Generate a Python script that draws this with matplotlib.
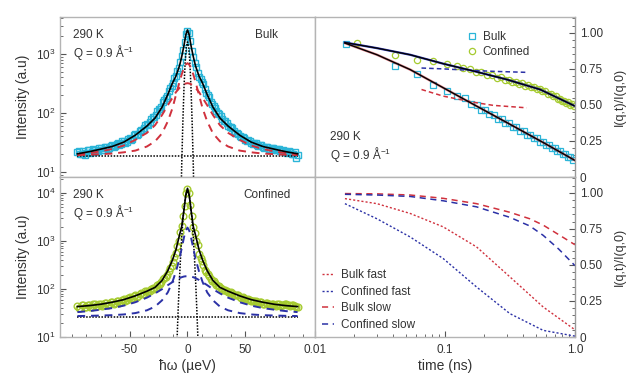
import numpy as np
import matplotlib
matplotlib.use("Agg")
import matplotlib.pyplot as plt
from matplotlib.ticker import FixedLocator, FixedFormatter, LogLocator, NullFormatter, MultipleLocator

plt.rcParams["font.family"] = ["Liberation Sans", "DejaVu Sans"]
plt.rcParams["mathtext.default"] = "regular"
plt.rcParams["font.size"] = 8

# ---------------- energy spectra (left) ----------------
E_DATA = np.arange(-95, 95.1, 2.5)      # energy channels (ueV)
E_DATA_B = np.arange(-93.75, 94, 2.5)   # interleaved channels

bulk_spec = [21.5, 19.8, 22.4, 20.6, 23.1, 21.7, 24.0, 22.8, 25.2, 23.9, 26.4, 25.1, 28.3, 27.0,
             30.4, 29.6, 33.5, 32.1, 37.2, 36.8, 43.6, 44.0, 51.8, 54.9, 64.5, 69.8, 84.0, 91.5,
             115, 128, 164, 196, 266, 325, 430, 570, 920, 1580, 2500, 1640, 880, 595, 410, 338,
             254, 205, 156, 133, 109, 95.5, 80.0, 72.8, 60.6, 57.5, 48.9, 46.2, 41.0, 39.1, 34.6,
             34.4, 31.2, 31.3, 28.4, 28.7, 26.4, 26.7, 24.7, 25.5, 23.7, 24.3, 22.6, 23.2, 21.4,
             22.3, 20.5, 21.4, 19.6]
bulk_spec_b = [22.6, 20.0, 19.4, 23.5, 21.0, 24.6, 22.1, 25.4, 23.2, 26.6, 24.5, 28.0, 26.3, 30.2,
               28.4, 33.0, 31.0, 36.6, 35.2, 42.3, 41.5, 50.0, 51.2, 61.8, 63.5, 79.0, 85.5, 106,
               117, 152, 176, 236, 290, 385, 505, 720, 1180, 2200, 2300, 1120, 690, 475, 380, 308,
               218, 185, 140, 123, 98.5, 90.5, 73.5, 68.0, 57.0, 54.6, 46.0, 44.8, 38.8, 38.2,
               33.4, 33.7, 30.3, 30.6, 27.6, 28.3, 25.7, 26.4, 24.3, 25.3, 23.2, 24.1, 22.2, 23.0,
               21.0, 22.0, 20.1, 17.2]

conf_spec = [44.8, 40.6, 45.9, 42.3, 47.0, 43.1, 48.2, 44.5, 49.6, 46.3, 52.0, 48.4, 54.1, 50.8,
             57.3, 54.0, 61.5, 58.2, 67.0, 63.8, 74.5, 71.0, 82.6, 80.4, 92.0, 91.2, 104, 107,
             128, 137, 170, 195, 268, 370, 565, 980, 2050, 5400, 12000, 5600, 1950, 1020, 540, 390,
             252, 206, 160, 144, 121, 113, 97.0, 96.5, 85.5, 85.0, 76.0, 75.8, 68.2, 67.5, 61.4,
             61.8, 56.6, 57.2, 52.5, 54.0, 49.6, 51.5, 47.6, 49.8, 45.7, 47.9, 44.2, 46.5, 48.5,
             45.8, 47.2, 44.0, 41.8]
conf_spec_b = [40.2, 46.4, 41.5, 47.1, 42.6, 48.0, 43.5, 49.3, 45.0, 51.2, 47.0, 53.5, 49.4, 56.1,
               52.3, 60.2, 56.0, 65.0, 61.5, 71.8, 68.5, 80.0, 77.0, 89.5, 87.0, 101, 102, 122,
               129, 158, 178, 240, 300, 470, 790, 1520, 3250, 9800, 10200, 3350, 1480, 810, 450,
               318, 224, 186, 148, 135, 114, 107, 94.5, 93.0, 83.0, 82.5, 74.0, 73.5, 66.0, 66.0,
               59.8, 60.3, 55.5, 56.5, 51.6, 53.0, 49.0, 51.0, 47.0, 49.4, 45.2, 48.6, 46.8, 49.5,
               47.0, 45.2, 46.0, 43.0]

E_FIT = [-95, -85, -75, -65, -55, -45, -35, -28, -22, -17, -13, -10, -7, -5, -3, -1.5, 0,
         1.5, 3, 5, 7, 10, 13, 17, 22, 28, 35, 45, 55, 65, 75, 85, 95]

bulk_total = [20.3, 22, 24.3, 27, 32, 42, 60, 82, 125, 205, 320, 420, 620, 900, 1400, 2100, 2560,
              2100, 1400, 900, 620, 420, 320, 205, 125, 82, 60, 42, 32, 27, 24.3, 22, 20.3]
bulk_narrow = [19.3, 19.6, 20, 20.5, 21.5, 23, 27, 33, 45, 72, 120, 200, 330, 450, 580, 660, 700,
               660, 580, 450, 330, 200, 120, 72, 45, 33, 27, 23, 21.5, 20.5, 20, 19.6, 19.3]
bulk_broad = [19.8, 20.8, 22.3, 24.5, 28, 35, 46, 62, 92, 135, 180, 225, 265, 290, 308, 316, 320,
              316, 308, 290, 265, 225, 180, 135, 92, 62, 46, 35, 28, 24.5, 22.3, 20.8, 19.8]
bulk_bg = 18.8

conf_total = [43, 45, 48, 53, 60, 72, 90, 108, 150, 240, 400, 650, 1300, 2000, 4500, 9000, 12500,
              9000, 4500, 2000, 1300, 650, 400, 240, 150, 108, 90, 72, 60, 53, 48, 45, 43]
conf_narrow = [27.3, 27.6, 28, 28.5, 29.5, 31.5, 36, 43, 58, 85, 140, 230, 420, 700, 1200, 1650, 1900,
               1650, 1200, 700, 420, 230, 140, 85, 58, 43, 36, 31.5, 29.5, 28.5, 28, 27.6, 27.3]
conf_broad = [33, 34.6, 37, 40, 45, 53, 66, 81, 99, 120, 139, 154, 168, 176, 182, 184, 185,
              184, 182, 176, 168, 154, 139, 120, 99, 81, 66, 53, 45, 40, 37, 34.6, 33]
conf_bg = 26

E_RES_B = [-7, -6, -5, -4, -3, -2, -1, 0, 1, 2, 3, 4, 5, 6, 7]
bulk_res = [0.1, 1.4, 12.9, 70, 277, 734, 1310, 1600, 1310, 734, 277, 70, 12.9, 1.4, 0.1]
E_RES_C = [-11, -10, -9, -8, -7, -6, -5, -4, -3, -2, -1, 0, 1, 2, 3, 4, 5, 6, 7, 8, 9, 10, 11]
conf_res = [0.3, 1.8, 9.1, 40, 148, 459, 1200, 2620, 4780, 7400, 9620, 10500, 9620, 7400, 4780,
            2620, 1200, 459, 148, 40, 9.1, 1.8, 0.3]

# ---------------- intermediate scattering functions (right) ----------------
t_bulk = [0.0173, 0.0414, 0.0605, 0.0813, 0.103, 0.123, 0.142, 0.158, 0.175, 0.19, 0.205, 0.22,
          0.237, 0.255, 0.273, 0.292, 0.312, 0.333, 0.355, 0.378, 0.402, 0.427, 0.453, 0.48,
          0.508, 0.537, 0.567, 0.598, 0.63, 0.663, 0.697, 0.732, 0.768, 0.805, 0.843, 0.882,
          0.922, 0.963]
iqt_bulk = [0.922, 0.768, 0.717, 0.641, 0.595, 0.561, 0.545, 0.508, 0.499, 0.468, 0.463, 0.436,
            0.432, 0.404, 0.401, 0.375, 0.372, 0.348, 0.345, 0.320, 0.318, 0.293, 0.292, 0.270,
            0.268, 0.246, 0.244, 0.222, 0.221, 0.200, 0.199, 0.179, 0.178, 0.159, 0.157, 0.139,
            0.138, 0.121]
t_conf = [0.021, 0.0414, 0.0605, 0.0813, 0.103, 0.123, 0.138, 0.155, 0.172, 0.19, 0.21, 0.23,
          0.25, 0.27, 0.29, 0.31, 0.33, 0.35, 0.37, 0.39, 0.41, 0.435, 0.46, 0.485, 0.51, 0.535,
          0.56, 0.59, 0.62, 0.65, 0.68, 0.71, 0.74, 0.77, 0.8, 0.83, 0.86, 0.89, 0.92, 0.95, 0.98]
iqt_conf = [0.929, 0.848, 0.814, 0.802, 0.784, 0.768, 0.756, 0.748, 0.729, 0.727, 0.708, 0.707,
            0.689, 0.691, 0.674, 0.676, 0.661, 0.662, 0.646, 0.649, 0.634, 0.636, 0.621, 0.624,
            0.609, 0.612, 0.596, 0.594, 0.576, 0.575, 0.559, 0.559, 0.543, 0.544, 0.530, 0.530,
            0.515, 0.517, 0.502, 0.504, 0.490]

t_fit = [0.017, 0.03, 0.054, 0.097, 0.175, 0.316, 0.57, 1.0]
fit_bulk = [0.929, 0.848, 0.745, 0.619, 0.492, 0.366, 0.239, 0.115]
t_fitc = [0.017, 0.03, 0.054, 0.097, 0.175, 0.3, 0.54, 1.0]
fit_conf = [0.933, 0.894, 0.848, 0.786, 0.73, 0.676, 0.607, 0.492]

t_plateau = [0.066, 0.097, 0.13, 0.175, 0.235, 0.425]
plateau_bulk = [0.607, 0.561, 0.538, 0.515, 0.497, 0.48]
plateau_conf = [0.756, 0.75, 0.744, 0.738, 0.733, 0.726]

t_comp = [0.017, 0.03, 0.054, 0.097, 0.175, 0.316, 0.45, 0.57, 0.75, 1.0]
bulk_slow = [0.995, 0.993, 0.985, 0.962, 0.925, 0.865, 0.82, 0.776, 0.71, 0.64]
conf_slow = [0.99, 0.985, 0.975, 0.945, 0.903, 0.83, 0.77, 0.705, 0.61, 0.495]
t_fast = [0.017, 0.03, 0.054, 0.097, 0.175, 0.316, 0.57, 1.0]
bulk_fast = [0.96, 0.925, 0.857, 0.764, 0.625, 0.417, 0.208, 0.05]
conf_fast = [0.925, 0.82, 0.694, 0.544, 0.347, 0.162, 0.046, 0.006]

CYAN = "#2bb5d8"
GREEN = "#a6cb30"
RED = "#d0313d"
NAVY = "#2b31a6"
FRAME = "#b4b4b4"
TXT = "#333333"

fig = plt.figure(figsize=(6.33, 3.77), dpi=100)
ax_tl = fig.add_axes([0.0948, 0.5305, 0.4028, 0.4244])
ax_bl = fig.add_axes([0.0948, 0.1061, 0.4028, 0.4244])
ax_tr = fig.add_axes([0.4976, 0.5305, 0.4107, 0.4244])
ax_br = fig.add_axes([0.4976, 0.1061, 0.4107, 0.4244])

for ax in (ax_tl, ax_bl, ax_tr, ax_br):
    for s in ax.spines.values():
        s.set_color(FRAME)
        s.set_linewidth(1.0)
    ax.tick_params(which="both", direction="in", colors="#555555", labelcolor=TXT, labelsize=8.5)
    ax.tick_params(which="major", length=4)
    ax.tick_params(which="minor", length=2)

# left panels
def spectrum(ax, data, data_b, color, marker, total, narrow, broad, bg, e_res, res, comp_color, ylim):
    for e, d in ((E_DATA, data), (E_DATA_B, data_b)):
        ax.plot(e, d, linestyle="none", marker=marker, ms=4.8, mfc="none", mec=color, mew=1.0)
    ax.plot(E_FIT, [bg] * len(E_FIT), color="k", ls=(0, (1, 1)), lw=1.1)
    ax.plot(e_res, res, color="k", ls=(0, (1, 1)), lw=1.1)
    ax.plot(E_FIT, narrow, color=comp_color, ls=(0, (4, 3)), lw=1.4)
    ax.plot(E_FIT, broad, color=comp_color, ls=(0, (4, 3)), lw=1.4)
    ax.plot(E_FIT, total, color="k", lw=1.2)
    ax.set_yscale("log")
    ax.set_xlim(-110, 110)
    ax.set_ylim(*ylim)
    ax.set_ylabel("Intensity (a.u)", fontsize=10, color=TXT, labelpad=4)
    ax.yaxis.set_major_locator(LogLocator(base=10))
    ax.yaxis.set_minor_locator(LogLocator(base=10, subs=np.arange(2, 10)))
    ax.yaxis.set_minor_formatter(NullFormatter())
    ax.xaxis.set_major_locator(FixedLocator([-50, 0, 50]))
    ax.xaxis.set_minor_locator(MultipleLocator(12.5))

spectrum(ax_tl, bulk_spec, bulk_spec_b, CYAN, "s", bulk_total, bulk_narrow, bulk_broad, bulk_bg,
         E_RES_B, bulk_res, RED, (8.2, 4240))
spectrum(ax_bl, conf_spec, conf_spec_b, GREEN, "o", conf_total, conf_narrow, conf_broad, conf_bg,
         E_RES_C, conf_res, NAVY, (10, 21500))
ax_tl.tick_params(axis="x", which="both", bottom=False, labelbottom=False)
ax_bl.set_xlabel("ħω (µeV)", fontsize=10, color=TXT, labelpad=2)
ax_bl.xaxis.set_major_formatter(FixedFormatter(["-50", "0", "50"]))
ax_bl.tick_params(axis="x", pad=5)

for ax, name in ((ax_tl, "Bulk"), (ax_bl, "Confined")):
    ax.text(0.05, 0.89, "290 K", transform=ax.transAxes, fontsize=8.5, color=TXT, va="center")
    ax.text(0.05, 0.78, "Q = 0.9 Å$^{-1}$", transform=ax.transAxes, fontsize=8.5, color=TXT, va="center")
    ax.text(0.81, 0.89, name, transform=ax.transAxes, fontsize=8.5, color=TXT, va="center", ha="center")

# right panels
for ax in (ax_tr, ax_br):
    ax.set_xscale("log")
    ax.set_xlim(0.01, 1.0)
    ax.set_ylim(0, 1.11)
    ax.yaxis.tick_right()
    ax.yaxis.set_label_position("right")
    ax.set_yticks([0, 0.25, 0.5, 0.75, 1.0])
    ax.set_yticklabels(["0", "0.25", "0.50", "0.75", "1.00"])
    ax.yaxis.set_minor_locator(MultipleLocator(0.05))
    ax.spines["right"].set_color("#999999")
    ax.set_ylabel("I(q,t)/I(q,0)", fontsize=9, color=TXT, labelpad=8)
    ax.tick_params(axis="y", which="both", left=False, right=True)

ax_tr.tick_params(axis="x", which="both", bottom=False, labelbottom=False)
ax_br.xaxis.set_major_locator(FixedLocator([0.01, 0.1, 1.0]))
ax_br.xaxis.set_major_formatter(FixedFormatter(["0.01", "0.1", "1.0"]))
ax_br.xaxis.set_minor_locator(LogLocator(base=10, subs=np.arange(2, 10)))
ax_br.xaxis.set_minor_formatter(NullFormatter())
ax_br.tick_params(axis="x", pad=5)
ax_br.set_xlabel("time (ns)", fontsize=10, color=TXT, labelpad=2)

ax_tr.plot(t_bulk, iqt_bulk, ls="none", marker="s", ms=4, mfc="none", mec=CYAN, mew=0.9, label="Bulk")
ax_tr.plot(t_conf, iqt_conf, ls="none", marker="o", ms=4.5, mfc="none", mec=GREEN, mew=0.9, label="Confined")
ax_tr.plot(t_plateau, plateau_bulk, color=RED, ls=(0, (3, 2)), lw=1.1)
ax_tr.plot(t_plateau, plateau_conf, color=NAVY, ls=(0, (3, 2)), lw=1.1)
ax_tr.plot(t_fit, fit_bulk, color=RED, lw=1.8, alpha=0.6)
ax_tr.plot(t_fitc, fit_conf, color=NAVY, lw=1.6)
ax_tr.plot(t_fit, fit_bulk, color="k", lw=1.0)
ax_tr.plot(t_fitc, fit_conf, color="k", lw=0.9)
ax_tr.legend(loc="upper left", bbox_to_anchor=(0.54, 0.98), frameon=False, fontsize=8.5,
             handlelength=1.0, handletextpad=0.4, labelspacing=0.25, labelcolor=TXT)
ax_tr.text(0.058, 0.25, "290 K", transform=ax_tr.transAxes, fontsize=8.5, color=TXT, va="center")
ax_tr.text(0.058, 0.14, "Q = 0.9 Å$^{-1}$", transform=ax_tr.transAxes, fontsize=8.5, color=TXT, va="center")

ax_br.plot(t_fast, bulk_fast, color=RED, ls=(0, (1.5, 1.5)), lw=1.0, label="Bulk fast")
ax_br.plot(t_fast, conf_fast, color=NAVY, ls=(0, (1.5, 1.5)), lw=1.0, label="Confined fast")
ax_br.plot(t_comp, bulk_slow, color=RED, ls=(0, (4, 3)), lw=1.1, label="Bulk slow")
ax_br.plot(t_comp, conf_slow, color=NAVY, ls=(0, (4, 3)), lw=1.1, label="Confined slow")
ax_br.legend(loc="lower left", bbox_to_anchor=(-0.015, -0.03), frameon=False, fontsize=8.5,
             handlelength=1.0, handletextpad=0.6, labelspacing=0.4, labelcolor=TXT)

fig.savefig("out.png", dpi=100)
